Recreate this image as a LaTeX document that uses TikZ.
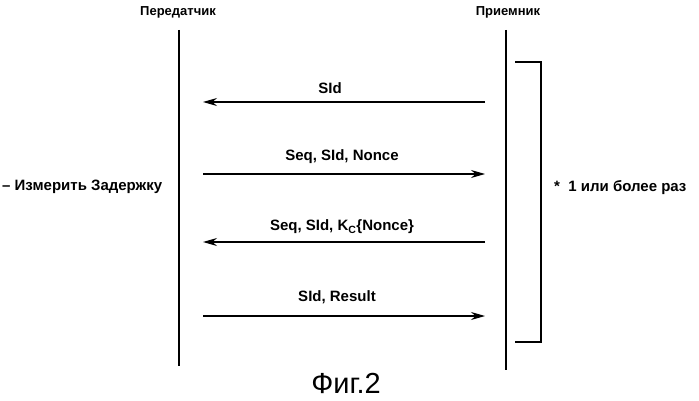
\documentclass[tikz,border=0pt]{standalone}
\usepackage{fontspec}
\setmainfont{Liberation Sans}
\usetikzlibrary{arrows.meta}
\begin{document}
\begin{tikzpicture}[x=1pt,y=-1pt,
  lbl/.style={font=\bfseries\fontsize{15}{18}\selectfont,inner sep=1pt},
  hdr/.style={font=\bfseries\fontsize{13}{15}\selectfont,inner sep=1pt},
  msg/.style={-{Stealth[length=14pt,width=8pt]},line width=1.1pt},
  life/.style={line width=1.1pt}]
\useasboundingbox (0,0) rectangle (699,401);
\node[hdr] (tx) at (178,12) {Передатчик};
\node[hdr] (rx) at (508,12) {Приемник};
\coordinate (lt) at (179,30); \coordinate (lb) at (179,366);
\coordinate (rt) at (506,30); \coordinate (rb) at (506,370);
\draw[life] (lt) -- (lb);
\draw[life] (rt) -- (rb);
\coordinate (a1) at (485,102); \coordinate (b1) at (203,102);
\coordinate (a2) at (203,174); \coordinate (b2) at (485,174);
\coordinate (a3) at (485,242); \coordinate (b3) at (203,242);
\coordinate (a4) at (203,316); \coordinate (b4) at (485,316);
\draw[msg] (a1) -- (b1);
\draw[msg] (a2) -- (b2);
\draw[msg] (a3) -- (b3);
\draw[msg] (a4) -- (b4);
\node[lbl] (m1) at (330,88) {SId};
\node[lbl] (m2) at (342,157) {Seq, SId, Nonce};
\node[lbl] (m3) at (342,227) {Seq, SId, K\textsubscript{C}\{Nonce\}};
\node[lbl] (m4) at (337,297) {SId, Result};
\draw[life] (515,62) -- (541,62) -- (541,342) -- (515,342);
\node[lbl,anchor=west] (rep) at (553,188) {*\ \ 1 или более раз};
\node[lbl,anchor=west] (meas) at (1,187) {– Измерить Задержку};
\node[font=\fontsize{29}{32}\selectfont,inner sep=0pt] (fig) at (346,383) {Фиг.2};
\end{tikzpicture}
\end{document}
